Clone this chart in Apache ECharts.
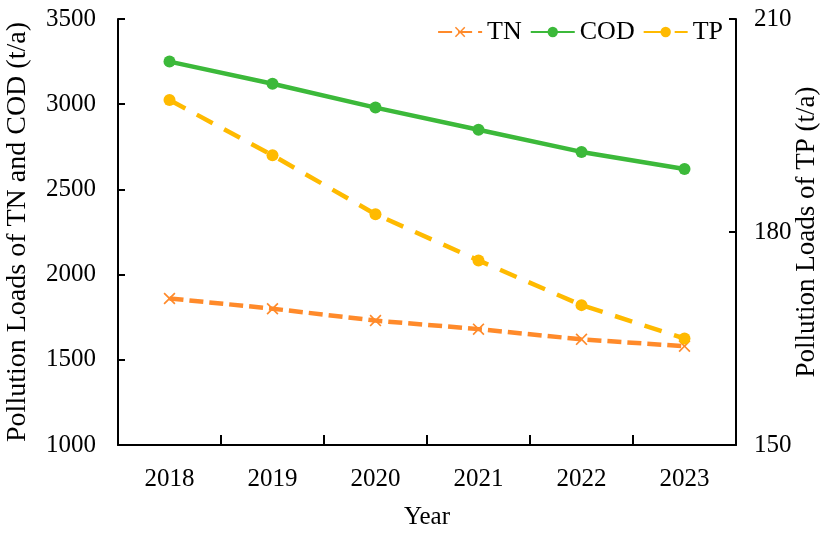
<!DOCTYPE html>
<html>
<head>
<meta charset="utf-8">
<script src="https://cdn.jsdelivr.net/npm/echarts@6/dist/echarts.min.js"></script>
<style>
  html, body { margin: 0; padding: 0; background: #fff; }
  #main { width: 828px; height: 534px; }
</style>
</head>
<body>
<div id="main"></div>
<script>
// 数据
var years = ["2018", "2019", "2020", "2021", "2022", "2023"];
var tnData = [1860, 1800, 1730, 1680, 1620, 1580];
var codData = [3250, 3120, 2980, 2850, 2720, 2620];
var tpData = [198.6, 190.8, 182.5, 176.0, 169.7, 165.0];

var font = "Liberation Serif";
var crossPath = "path://M0,1L1,0L5,4L9,0L10,1L6,5L10,9L9,10L5,6L1,10L0,9L4,5Z";

var myChart = echarts.init(document.getElementById("main"));
var option = {
    animation: false,
    textStyle: { fontFamily: font },
    grid: { left: 118, right: 92, top: 19, bottom: 89, outerBoundsMode: "none", containLabel: false },
    legend: {
        top: 14,
        right: 100,
        itemGap: 8,
        itemWidth: 44,
        itemHeight: 13,
        textStyle: { fontFamily: font, fontSize: 26, color: "#000" },
        data: ["TN", "COD", "TP"]
    },
    xAxis: {
        type: "category",
        data: years,
        boundaryGap: true,
        name: "Year",
        nameLocation: "middle",
        nameGap: 60,
        nameTextStyle: { fontFamily: font, fontSize: 25, color: "#000" },
        axisLine: { lineStyle: { color: "#000", width: 2 } },
        axisTick: { show: true, inside: true, length: 10, lineStyle: { color: "#000", width: 2 } },
        axisLabel: { fontFamily: font, fontSize: 25, color: "#000", margin: 22 },
        splitLine: { show: false }
    },
    yAxis: [
        {
            type: "value",
            min: 1000,
            max: 3500,
            interval: 500,
            name: "Pollution Loads of TN and COD (t/a)",
            nameLocation: "middle",
            nameGap: 86,
            nameTextStyle: { fontFamily: font, fontSize: 28, color: "#000" },
            axisLine: { show: true, lineStyle: { color: "#000", width: 2 } },
            axisTick: { show: true, inside: true, length: 7, lineStyle: { color: "#000", width: 2 } },
            axisLabel: { fontFamily: font, fontSize: 25, color: "#000", margin: 22, formatter: function (v) { return String(v); } },
            splitLine: { show: false }
        },
        {
            type: "value",
            min: 150,
            max: 210,
            interval: 30,
            name: "Pollution Loads of TP (t/a)",
            nameLocation: "middle",
            nameGap: 57,
            nameMoveOverlap: false,
            nameRotate: 90,
            nameTextStyle: { fontFamily: font, fontSize: 27, color: "#000" },
            axisLine: { show: true, lineStyle: { color: "#000", width: 2 } },
            axisTick: { show: true, inside: true, length: 7, lineStyle: { color: "#000", width: 2 } },
            axisLabel: { fontFamily: font, fontSize: 25, color: "#000", margin: 18, formatter: function (v) { return String(v); } },
            splitLine: { show: false }
        }
    ],
    series: [
        {
            name: "TN",
            type: "line",
            yAxisIndex: 0,
            data: tnData,
            symbol: crossPath,
            symbolSize: 12,
            itemStyle: { color: "#FF8A2A" },
            lineStyle: { color: "#FF8A2A", width: 4.5, type: [14, 6] }
        },
        {
            name: "COD",
            type: "line",
            yAxisIndex: 0,
            data: codData,
            symbol: "circle",
            symbolSize: 12,
            itemStyle: { color: "#3CB93A" },
            lineStyle: { color: "#3CB93A", width: 4.5 }
        },
        {
            name: "TP",
            type: "line",
            yAxisIndex: 1,
            data: tpData,
            symbol: "circle",
            symbolSize: 12,
            itemStyle: { color: "#FFBA00" },
            lineStyle: { color: "#FFBA00", width: 4.5, type: [18, 13] }
        }
    ]
};
myChart.setOption(option);
</script>
</body>
</html>
